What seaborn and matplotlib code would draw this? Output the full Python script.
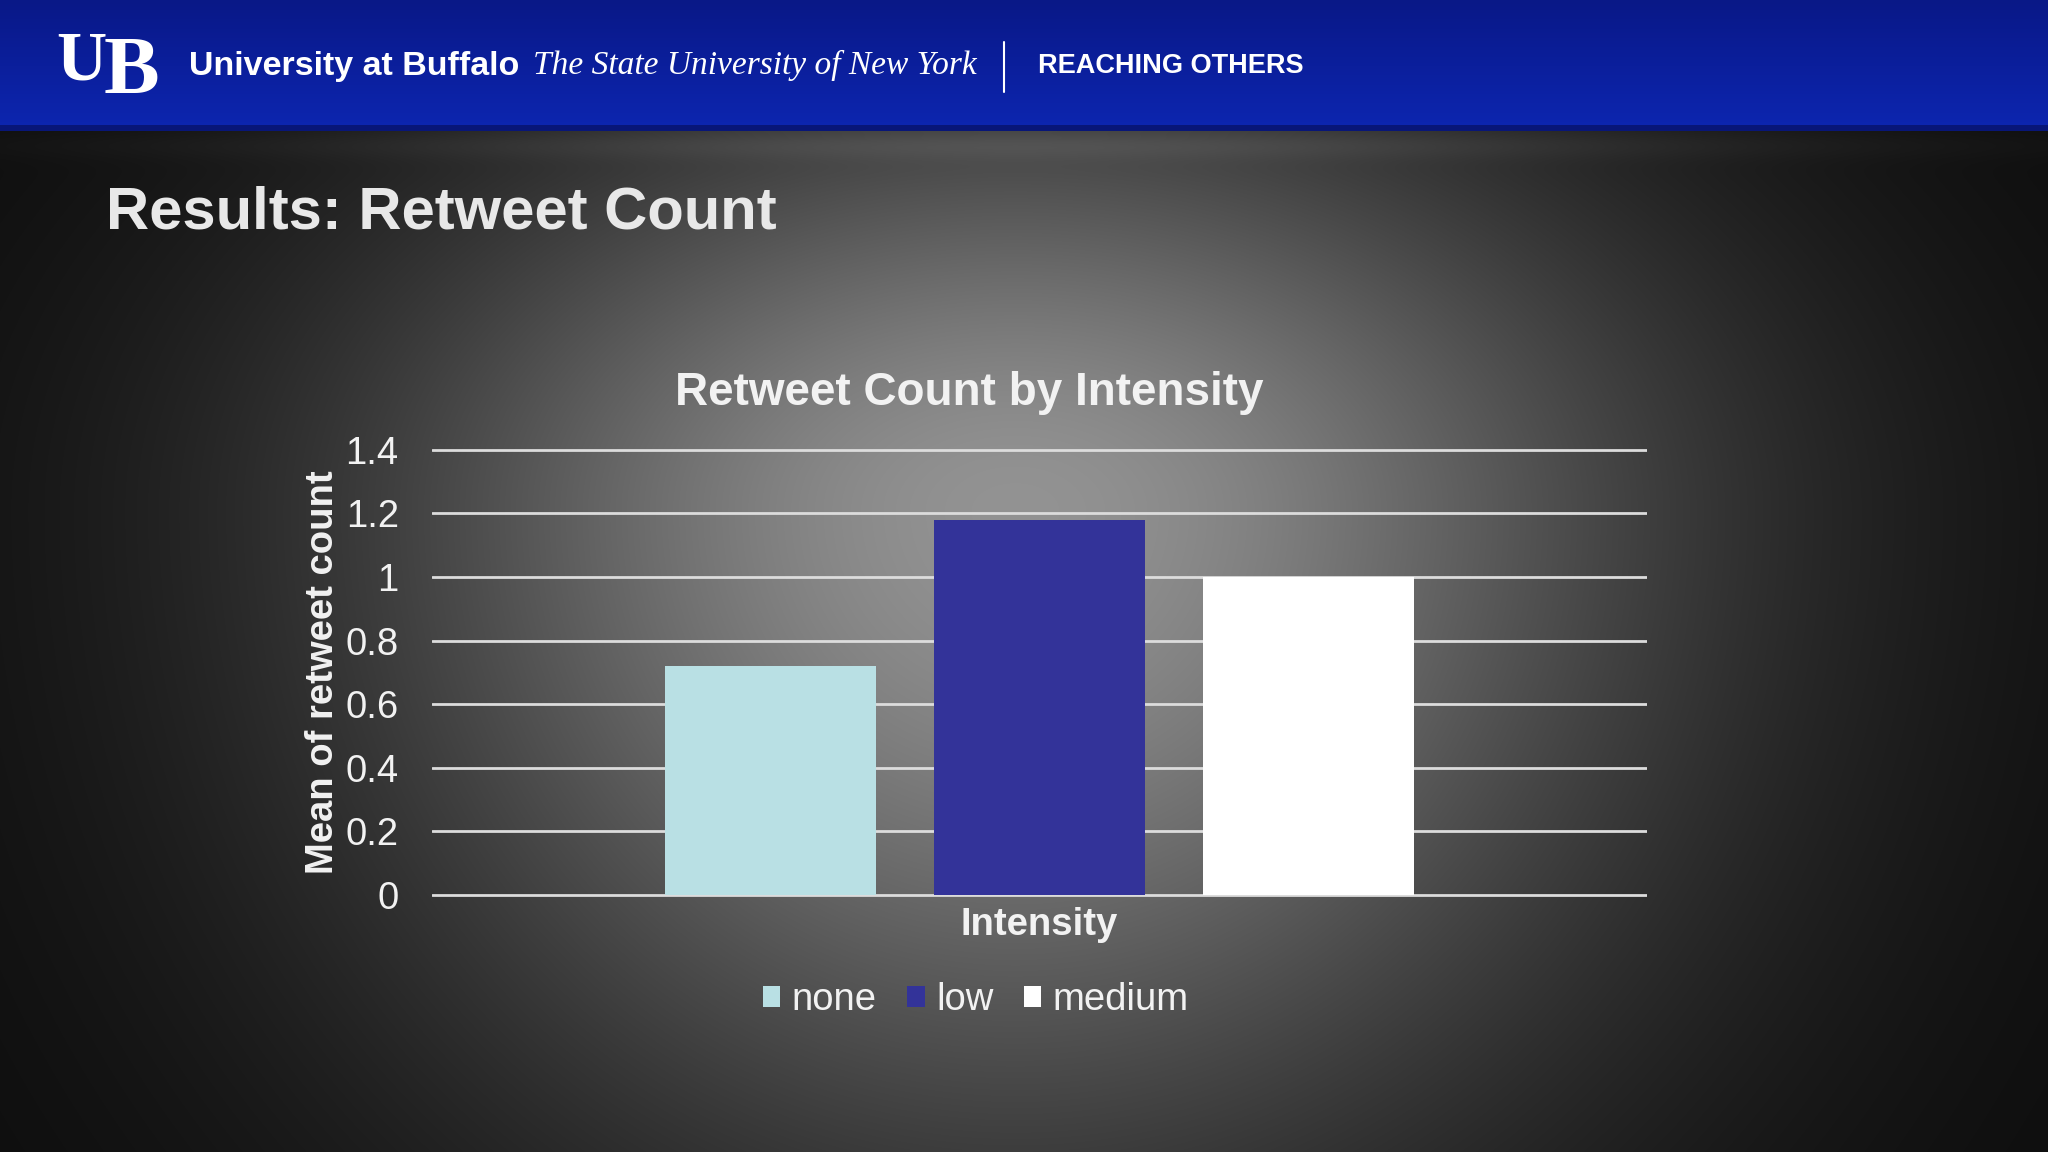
import numpy as np
import pandas as pd
import seaborn as sns
import matplotlib.pyplot as plt
from matplotlib.lines import Line2D

# chart data
group_label = "Intensity"
levels = ["none", "low", "medium"]
mean_retweets = [0.72, 1.18, 1.0]
level_colors = ["#b9e0e4", "#333399", "#ffffff"]
y_ticks = [0, 0.2, 0.4, 0.6, 0.8, 1.0, 1.2, 1.4]
y_tick_labels = ["0", "0.2", "0.4", "0.6", "0.8", "1", "1.2", "1.4"]

W, H = 2048, 1152
TXT = "#f2f2f2"

sns.set_theme(style="white")
plt.rcParams["font.family"] = ["Liberation Sans", "DejaVu Sans"]


def fx(x):
    return x / W


def fy(y):
    return 1 - y / H


def make_background():
    '''Slide background: blue header band plus a grey spotlight.'''
    yy, xx = np.mgrid[0:H, 0:W].astype(float)
    dx = (xx - 1015) / 640
    dy = yy - 510
    sy = np.where(dy < 0, 400, 640)
    glow = np.exp(-(dx ** 2 + (dy / sy) ** 2))
    v = 0.045 + 0.53 * glow
    # soft lighter strip right under the header
    v = v + 0.05 * np.exp(-((yy - 145) / 14) ** 2) * np.exp(-((xx - 1015) / 900) ** 2)
    img = np.dstack([v, v, v])
    # header band
    band = yy < 131
    t = yy / 131
    r = 9 + 4 * t
    g = 24 + 14 * t
    b = 135 + 42 * t
    img[band] = np.dstack([r, g, b])[band] / 255
    edge = (yy >= 125) & (yy < 131)
    img[edge] = np.array([8, 22, 120]) / 255
    return np.clip(img, 0, 1)


fig = plt.figure(figsize=(20.48, 11.52), dpi=100)
bg = fig.add_axes([0, 0, 1, 1], zorder=0)
bg.imshow(make_background(), aspect="auto", extent=[0, W, H, 0])
bg.set_axis_off()

# header
fig.text(fx(56), fy(30), "U", fontsize=50, fontweight="bold", family="Liberation Serif",
         color="white", ha="left", va="top")
fig.text(fx(104), fy(36), "B", fontsize=60, fontweight="bold", family="Liberation Serif",
         color="white", ha="left", va="top")
fig.text(fx(189), fy(67), "University at Buffalo", fontsize=24.5, fontweight="bold",
         color="white", ha="left", va="center")
fig.text(fx(533), fy(65), "The State University of New York", fontsize=24, style="italic",
         family="Liberation Serif", color="white", ha="left", va="center")
fig.add_artist(Line2D([fx(1004), fx(1004)], [fy(42), fy(92)], color="white", lw=1.5,
                      transform=fig.transFigure))
fig.text(fx(1038), fy(66), "REACHING OTHERS", fontsize=19.5, fontweight="bold",
         color="white", ha="left", va="center")

# slide title and chart title
fig.text(fx(106), fy(213), "Results: Retweet Count", fontsize=43, fontweight="bold",
         color="#e8e8e8", ha="left", va="center")
fig.text(fx(969), fy(393), "Retweet Count by Intensity", fontsize=33, fontweight="bold",
         color=TXT, ha="center", va="center")

# chart axes: x 432..1647 px, y=0 at 895 px, 318 px per unit
ymin, ymax = -0.01, 1.41
px_unit = 318
bottom_px = 895 + (0 - ymin) * px_unit
top_px = 895 - ymax * px_unit
ax = fig.add_axes([fx(432), fy(bottom_px), (1647 - 432) / W, (bottom_px - top_px) / H], zorder=1)
ax.patch.set_alpha(0)

df = pd.DataFrame({"group": [group_label] * len(levels), "level": levels, "mean": mean_retweets})
sns.barplot(data=df, x="group", y="mean", hue="level", hue_order=levels,
            palette=level_colors, saturation=1, width=0.664, gap=0.216,
            errorbar=None, linewidth=0, ax=ax)

ax.set_xlim(-0.5, 0.5)
ax.set_ylim(ymin, ymax)
ax.set_yticks(y_ticks)
ax.set_yticklabels(y_tick_labels)
ax.yaxis.grid(True, color="#dcdcdc", lw=2)
ax.set_axisbelow(True)
sns.despine(ax=ax, left=True, bottom=True)
ax.tick_params(axis="y", length=0, pad=24, labelsize=27.5, labelcolor=TXT)
ax.tick_params(axis="x", length=0, pad=6, labelsize=27.5, labelcolor=TXT)
for lbl in ax.get_xticklabels():
    lbl.set_fontweight("bold")
ax.set_xlabel("")
ax.set_ylabel("Mean of retweet count", fontsize=27.5, fontweight="bold", color=TXT, labelpad=3)

handles, labels = ax.get_legend_handles_labels()
ax.legend(handles, labels, loc="center", bbox_to_anchor=(fx(976), fy(1000)),
          bbox_transform=fig.transFigure, ncol=3, frameon=False, fontsize=27.5,
          handlelength=0.45, handleheight=0.45, handletextpad=0.3, columnspacing=0.8,
          labelcolor=TXT)

fig.savefig("out.png", dpi=100)
